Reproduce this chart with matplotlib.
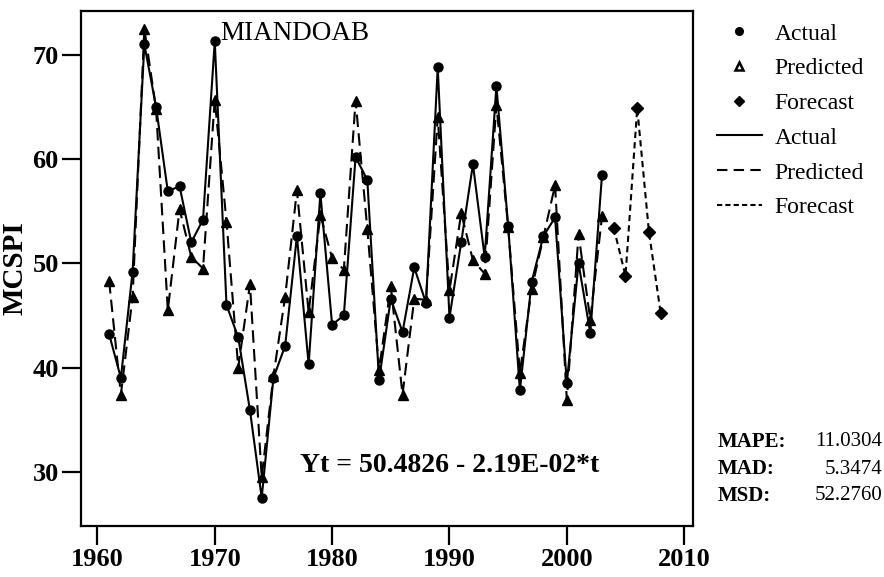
import matplotlib
matplotlib.use("Agg")
import matplotlib.pyplot as plt
from matplotlib.lines import Line2D

plt.rcParams['font.family'] = ['Liberation Serif', 'DejaVu Serif']

# Data
years = list(range(1961, 2004))
actual = [43.2, 39.0, 49.2, 71.0, 65.0, 56.9, 57.4, 52.0, 54.2, 71.3,
          46.0, 42.9, 35.9, 27.5, 39.0, 42.1, 52.6, 40.3, 56.7, 44.1,
          45.0, 60.2, 58.0, 38.8, 46.6, 43.4, 49.6, 46.2, 68.8, 44.8,
          52.0, 59.5, 50.6, 67.0, 53.6, 37.8, 48.2, 52.6, 54.4, 38.5,
          50.0, 43.3, 58.5]
predicted = [48.3, 37.4, 46.8, 72.5, 64.8, 45.5, 55.2, 50.6, 49.5, 65.7,
             54.0, 40.0, 48.0, 29.5, 39.2, 46.8, 57.0, 45.3, 54.6, 50.5,
             49.4, 65.6, 53.3, 39.8, 47.8, 37.4, 46.6, 46.5, 64.0, 47.4,
             54.8, 50.3, 49.0, 65.2, 53.5, 39.5, 47.5, 52.5, 57.5, 36.9,
             52.8, 44.6, 54.5]
fc_years = [2004, 2005, 2006, 2007, 2008]
forecast = [53.4, 48.8, 64.9, 53.0, 45.2]

xticks = [1960, 1970, 1980, 1990, 2000, 2010]
yticks = [30, 40, 50, 60, 70]

fig = plt.figure(figsize=(8.84, 5.77), dpi=100)
ax = fig.add_axes([0.0916, 0.0884, 0.6923, 0.8925])

ax.plot(years, predicted, color='black', lw=1.5, ls=(0, (6, 3)),
        marker='^', ms=7)
ax.plot(years, actual, color='black', lw=1.5, ls='-', marker='o', ms=6.5)
ax.plot(fc_years, forecast, color='black', lw=1.5, ls=(0, (3, 2)),
        marker='D', ms=6)

ax.set_xlim(1958.6, 2010.75)
ax.set_ylim(24.8, 74.2)
ax.set_xticks(xticks)
ax.set_yticks(yticks)
for s in ax.spines.values():
    s.set_linewidth(1.6)
ax.tick_params(direction='out', length=14, width=1.6, labelsize=19, pad=2)
for lab in ax.get_xticklabels() + ax.get_yticklabels():
    lab.set_fontweight('bold')
ax.set_ylabel('MCSPI', fontsize=21, fontweight='bold', labelpad=3)

ax.text(0.227, 0.957, 'MIANDOAB', transform=ax.transAxes, fontsize=19.5,
        va='center', ha='left')
ax.text(0.358, 0.118, 'Yt = 50.4826 - 2.19E-02*t', transform=ax.transAxes,
        fontsize=20, fontweight='bold', va='center', ha='left')

handles = [
    Line2D([], [], color='black', ls='none', marker='o', ms=5.5),
    Line2D([], [], color='black', ls='none', marker='^', ms=6,
           mfc='white', mew=1.8),
    Line2D([], [], color='black', ls='none', marker='D', ms=5.5),
    Line2D([], [], color='black', lw=1.5, ls='-'),
    Line2D([], [], color='black', lw=1.5, ls=(0, (5, 3))),
    Line2D([], [], color='black', lw=1.5, ls=(0, (2.5, 1.5))),
]
labels = ['Actual', 'Predicted', 'Forecast', 'Actual', 'Predicted', 'Forecast']
fig.legend(handles, labels, loc='upper left', bbox_to_anchor=(0.787, 0.997),
           frameon=False, fontsize=17, handlelength=1.9, labelspacing=0.56,
           handletextpad=0.55)

stats = [('MAPE:', '11.0304'), ('MAD:', '5.3474'), ('MSD:', '52.2760')]
stat_y = [1 - 442 / 577, 1 - 469 / 577, 1 - 496 / 577]
for (name, val), yy in zip(stats, stat_y):
    fig.text(0.812, yy, name, fontsize=15, fontweight='bold', va='center')
    fig.text(0.998, yy, val, fontsize=15, va='center', ha='right')

fig.savefig('out.png', dpi=100)
